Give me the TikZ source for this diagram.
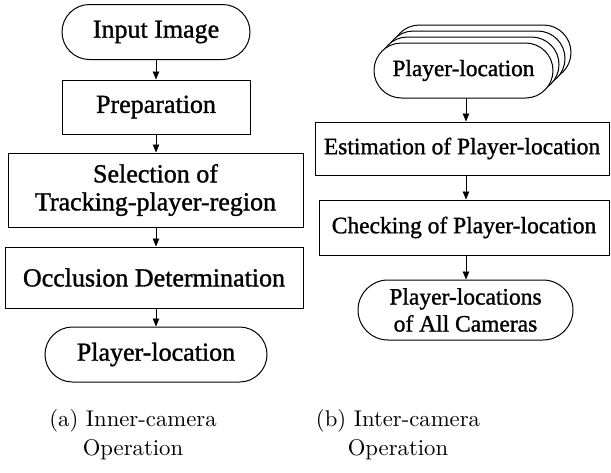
\documentclass[tikz,border=0pt]{standalone}
\usepackage{fontspec}
\newfontfamily\boxfont[FakeBold=1.2]{Liberation Serif}
\newfontfamily\capfont{lmroman10-regular}[Extension=.otf]
\usetikzlibrary{shapes.misc,arrows.meta}

\begin{document}
\begin{tikzpicture}[x=1pt,y=-1pt,
    box/.style={draw,line width=1pt,fill=white,inner sep=0pt,align=center,
                font=\boxfont\fontsize{26}{28}\selectfont},
    term/.style={box,rounded rectangle},
    arr/.style={-{Triangle[length=8pt,width=6.5pt]},line width=0.8pt},
    caption/.style={align=center,font=\capfont\fontsize{22.7}{29}\selectfont}]
    \useasboundingbox (0,0) rectangle (611,472);

    % (a) inner-camera operation
    \node[term,minimum width=188pt,minimum height=55pt] (in) at (156,32) {Input Image};
    \node[box,minimum width=188pt,minimum height=54pt] (prep) at (156,107) {Preparation};
    \node[box,minimum width=295pt,minimum height=74pt] (sel) at (155.5,190) {Selection of\\Tracking-player-region};
    \node[box,minimum width=298pt,minimum height=61pt] (occ) at (154,277.5) {Occlusion Determination};
    \node[term,minimum width=222pt,minimum height=55pt] (loc) at (156,354.5) {Player-location};

    \draw[arr] (in.south) -- (in.south |- prep.north);
    \draw[arr] (prep.south) -- (prep.south |- sel.north);
    \draw[arr] (sel.south -| prep.south) -- (prep.south |- occ.north);
    \draw[arr] (occ.south -| prep.south) -- (prep.south |- loc.north);

    % (b) inter-camera operation, one location per camera
    \foreach \k in {3,2,1} {
        \node[term,minimum width=179pt,minimum height=55pt] (stack\k) at (463.5+6*\k,70.5-6*\k) {};
    }
    \node[term,minimum width=179pt,minimum height=55pt,font=\boxfont\fontsize{23.3}{27}\selectfont] (locs) at (463.5,70.5) {Player-location};
    \begin{scope}[box/.append style={font=\boxfont\fontsize{23.5}{27}\selectfont}]
        \node[box,minimum width=294pt,minimum height=53pt] (est) at (462,148.5) {Estimation of Player-location};
        \node[box,minimum width=290pt,minimum height=55pt] (chk) at (464,227.5) {Checking of Player-location};
        \node[term,minimum width=215pt,minimum height=60pt] (all) at (465.5,310) {Player-locations\\of All Cameras};
    \end{scope}

    \draw[arr] (466,98) coordinate (s) -- (s |- est.north);
    \draw[arr] (est.south -| s) -- (s |- chk.north);
    \draw[arr] (chk.south -| s) -- (s |- all.north);

    % captions
    \node[caption] (capa) at (133,435) {(a) Inner-camera\\Operation};
    \node[caption] (capb) at (398,435) {(b) Inter-camera\\Operation};
\end{tikzpicture}
\end{document}
